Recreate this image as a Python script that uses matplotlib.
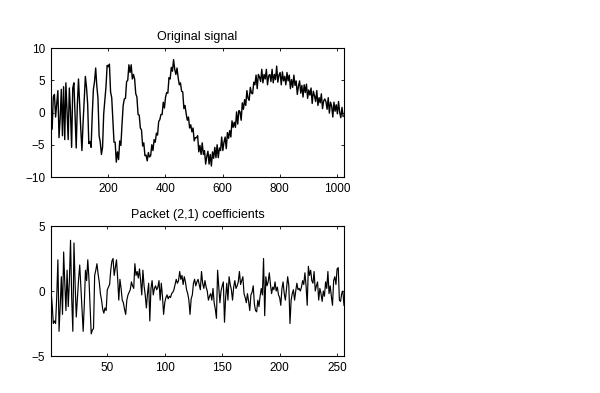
import numpy as np
import matplotlib
matplotlib.use("Agg")
import matplotlib.pyplot as plt

# noisy signal, every 4th sample (1, 5, 9, ... 1021)
signal = [
    1.4, -2.6, 2.4, 2.8, -0.7, 1.3, 3.4, -3.9, -0.9, 3.6, -3.6, 4.0, -4.2, 4.6, 0.2, -4.2,
    3.8, 0.2, -5.4, 3.8, 4.6, -0.5, -5.5, 1.2, 5.2, 1.2, -2.6, -5.9, -1.6, 2.0, 5.6, 3.9,
    1.3, -4.8, -4.5, -5.4, -0.4, 3.6, 4.8, 6.9, 4.1, 2.2, -3.6, -4.6, -6.5, -5.4, -0.2, 2.0,
    4.0, 7.3, 7.1, 7.5, 3.2, 2.3, -1.3, -4.6, -4.6, -7.7, -6.1, -7.3, -4.4, -5.1, -1.8, 1.1,
    2.1, 2.2, 4.8, 5.0, 7.4, 6.2, 7.4, 5.2, 5.9, 5.2, 2.9, 2.4, -0.3, -0.4, -2.4, -2.7,
    -5.2, -4.7, -6.7, -6.6, -7.5, -6.2, -6.9, -6.7, -5.0, -5.9, -4.2, -4.6, -3.2, -3.5, -1.4, -1.1,
    -0.3, -0.3, 1.6, 0.7, 2.4, 3.1, 3.0, 5.4, 5.2, 7.0, 6.4, 8.2, 6.7, 5.9, 6.9, 5.4,
    4.3, 4.6, 3.3, 3.2, 0.6, 1.1, -0.2, -1.2, -0.7, -2.4, -1.9, -3.0, -2.4, -4.4, -3.9, -3.9,
    -3.6, -6.1, -5.1, -6.5, -4.7, -6.5, -5.9, -8.0, -6.8, -6.0, -8.0, -6.5, -8.3, -6.1, -7.1, -5.4,
    -7.0, -5.0, -7.0, -5.5, -5.9, -3.8, -5.9, -4.6, -3.8, -5.6, -3.1, -4.0, -2.8, -3.8, -1.3, -2.3,
    -1.5, -2.3, 0.1, -1.8, 0.3, 0.1, -1.2, 1.5, 0.5, 2.0, 1.1, 3.4, 2.2, 1.9, 3.9, 3.0,
    2.9, 4.7, 4.3, 5.8, 3.7, 5.9, 5.5, 4.8, 6.7, 4.6, 5.9, 5.2, 6.7, 4.3, 5.7, 5.9,
    4.8, 6.7, 4.6, 5.9, 5.1, 7.2, 4.7, 5.8, 6.2, 4.3, 6.3, 4.9, 5.6, 4.3, 6.2, 4.9,
    5.8, 3.7, 5.1, 3.9, 5.8, 4.2, 4.9, 2.8, 4.1, 4.9, 3.0, 4.2, 2.4, 4.3, 3.1, 4.4,
    2.2, 3.5, 2.7, 3.8, 1.4, 3.3, 2.6, 1.7, 3.4, 1.1, 2.3, 1.5, 2.9, 0.6, 1.8, 2.1,
    1.7, 0.5, 2.3, -0.1, 1.6, 1.0, -0.7, 1.6, 0.2, 1.2, -0.2, 1.7, 0.0, -0.8, 0.8, -0.6,
]
sig_idx = np.arange(1, 1025, 4)

# packet (2,1) coefficients, 256 values
coefs = [
    0.0, -1.0, -2.5, -2.3, -2.5, -0.4, 2.4, -3.1, -1.2, 1.1, -1.8, 3.0, 0.6, -1.5, 1.6, -1.2,
    0.8, 3.9, -0.5, -3.1, 3.7, 0.5, -2.0, -0.6, 0.9, 2.0, 0.3, -1.5, -3.1, -1.0, 1.6, 0.8,
    2.4, 1.0, -1.2, -3.3, -3.0, -2.9, 1.2, 1.6, 2.1, 1.3, 0.7, -0.2, -0.7, -1.4, -1.7, -1.3,
    -1.5, 0.1, 0.3, 0.5, 1.6, 2.3, 2.5, 1.2, 1.8, 2.4, 1.0, -0.7, 0.9, 0.2, -0.7, -0.9,
    -1.4, -1.8, -0.7, -0.3, -0.1, 0.1, 0.7, 0.4, 0.2, 2.1, 1.2, 1.5, 1.0, 1.7, 0.8, -0.3,
    1.6, 0.4, -0.3, -1.3, -0.2, 0.6, -2.3, 0.2, 0.8, -0.3, 0.2, 0.4, 0.1, 0.3, 0.8, -0.7,
    0.6, -0.4, -1.8, -0.9, -0.5, -0.3, -0.6, -0.4, -0.5, -0.2, -0.1, 0.1, 0.5, 0.9, 0.6, 0.8,
    1.5, 0.9, 1.2, 0.5, 1.1, 0.7, 0.1, -0.2, -0.7, -1.8, -0.6, -0.3, 0.6, 0.9, 0.4, 0.7,
    0.9, 0.5, 0.1, 1.5, 0.6, 0.2, 0.8, 0.3, 0.0, -0.7, -0.4, -0.2, -0.7, 0.2, -0.9, -1.4,
    -2.1, 1.6, 0.3, -0.9, 0.0, 0.4, 0.7, -2.4, -0.5, 0.6, -0.7, 1.1, 0.5, 0.1, -0.7, 0.3,
    0.8, 0.2, 0.4, 0.7, 1.5, 0.5, 0.8, 1.1, -0.2, -0.5, -0.9, -0.2, -0.8, -1.5, -0.3, -0.1,
    0.4, -1.0, -1.5, -1.6, -0.7, -1.2, -0.4, 0.2, -0.3, 2.5, -1.9, 1.1, 0.4, 0.7, 1.4, 0.5,
    -0.2, 0.3, 0.1, 0.7, 0.0, 0.3, -0.3, -0.5, -1.1, 0.2, 0.7, -0.2, -0.7, 0.2, 1.1, 0.4,
    -2.5, -0.7, -0.2, 0.1, -0.7, 0.0, 0.6, 0.1, 0.2, 0.0, 0.3, 0.8, 0.5, 1.4, 0.4, -1.1,
    1.9, 1.2, 1.6, 0.8, 0.6, 1.5, 0.0, 0.4, 0.7, -0.7, 0.2, -0.2, -0.8, 0.0, -0.4, 0.7,
    0.2, 1.5, -0.2, 0.4, -0.4, -1.1, 0.8, 1.1, 0.5, 1.7, 1.8, -0.7, -0.8, -0.2, 0.0, -1.1,
]
coef_idx = np.arange(1, len(coefs) + 1)

plt.rcParams['font.family'] = ['Liberation Sans', 'DejaVu Sans']
plt.rcParams['font.size'] = 8

fig = plt.figure(figsize=(6, 3.93), dpi=100)

ax1 = fig.add_axes([0.085, 0.5496, 0.4883, 0.3282])
ax1.plot(sig_idx, signal, color='k', linewidth=1.0)
ax1.set_xlim(1, 1024)
ax1.set_ylim(-10, 10)
ax1.set_xticks([200, 400, 600, 800, 1000])
ax1.set_yticks([-10, -5, 0, 5, 10])
ax1.set_title("Original signal", fontsize=9, pad=6)

ax2 = fig.add_axes([0.085, 0.0941, 0.4883, 0.3308])
ax2.plot(coef_idx, coefs, color='k', linewidth=0.85)
ax2.set_xlim(1, 256)
ax2.set_ylim(-5, 5)
ax2.set_xticks([50, 100, 150, 200, 250])
ax2.set_yticks([-5, 0, 5])
ax2.set_title("Packet (2,1) coefficients", fontsize=9, pad=6)

for ax in (ax1, ax2):
    ax.tick_params(direction='in', length=2.5, width=0.6, top=True, right=True, labelsize=8.5, pad=4)
    for sp in ax.spines.values():
        sp.set_linewidth(0.8)

fig.savefig("out.png", dpi=100)
